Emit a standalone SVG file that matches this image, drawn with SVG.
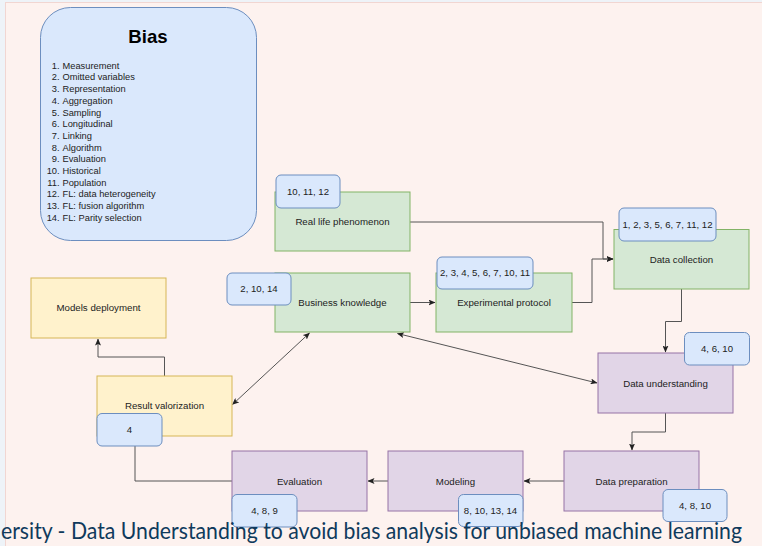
<svg xmlns="http://www.w3.org/2000/svg" width="762" height="546" viewBox="0 0 762 546">
<defs>
<marker id="arr" viewBox="0 0 7 6" refX="6.5" refY="3" markerWidth="7" markerHeight="6" markerUnits="userSpaceOnUse" orient="auto-start-reverse">
<path d="M0,0 L7,3 L0,6 L1.6,3 z" fill="#222"/>
</marker>
<style>
text{font-family:"Liberation Sans",Arial,sans-serif;fill:#222}
.lbl{font-size:9.7px;text-anchor:middle}
.bdg{font-size:9.6px;text-anchor:middle}
.green{fill:#d5e8d4;stroke:#82b366;stroke-width:1}
.purple{fill:#e1d5e7;stroke:#9673a6;stroke-width:1}
.yellow{fill:#fff2cc;stroke:#d6b656;stroke-width:1}
.blue{fill:#dae8fc;stroke:#6c8ebf;stroke-width:1}
.edge{fill:none;stroke:#555;stroke-width:1}
.list{font-size:9.3px}
.num{font-size:9.3px;text-anchor:end}
</style>
</defs>
<rect x="0" y="0" width="762" height="546" fill="#eef3f8"/>
<rect x="5.5" y="2.5" width="760" height="550" fill="#fdf2ef" stroke="#f1d6d2" stroke-width="1"/>

<g id="bias">
<rect x="40.5" y="7.5" width="216" height="233" rx="30" ry="30" class="blue"/>
<text x="148" y="42.5" style="font-size:18.6px;font-weight:bold;text-anchor:middle;fill:#000">Bias</text>
<text class="num" x="59.6" y="68.7">1.</text><text class="list" x="62.5" y="68.7">Measurement</text>
<text class="num" x="59.6" y="80.4">2.</text><text class="list" x="62.5" y="80.4">Omitted variables</text>
<text class="num" x="59.6" y="92.1">3.</text><text class="list" x="62.5" y="92.1">Representation</text>
<text class="num" x="59.6" y="103.8">4.</text><text class="list" x="62.5" y="103.8">Aggregation</text>
<text class="num" x="59.6" y="115.5">5.</text><text class="list" x="62.5" y="115.5">Sampling</text>
<text class="num" x="59.6" y="127.2">6.</text><text class="list" x="62.5" y="127.2">Longitudinal</text>
<text class="num" x="59.6" y="138.9">7.</text><text class="list" x="62.5" y="138.9">Linking</text>
<text class="num" x="59.6" y="150.6">8.</text><text class="list" x="62.5" y="150.6">Algorithm</text>
<text class="num" x="59.6" y="162.3">9.</text><text class="list" x="62.5" y="162.3">Evaluation</text>
<text class="num" x="59.6" y="174">10.</text><text class="list" x="62.5" y="174">Historical</text>
<text class="num" x="59.6" y="185.7">11.</text><text class="list" x="62.5" y="185.7">Population</text>
<text class="num" x="59.6" y="197.4">12.</text><text class="list" x="62.5" y="197.4">FL: data heterogeneity</text>
<text class="num" x="59.6" y="209.1">13.</text><text class="list" x="62.5" y="209.1">FL: fusion algorithm</text>
<text class="num" x="59.6" y="220.8">14.</text><text class="list" x="62.5" y="220.8">FL: Parity selection</text>
</g>

<g id="connectors">
<path class="edge" d="M410,222 H603 V259 H613" marker-end="url(#arr)"/>
<path class="edge" d="M572,302.5 H592 V259 H613" marker-end="url(#arr)"/>
<path class="edge" d="M410,302.5 H435" marker-end="url(#arr)"/>
<path class="edge" d="M681.5,289 V321.5 H665.5 V352" marker-end="url(#arr)"/>
<path class="edge" d="M665.5,413 V432 H632 V450" marker-end="url(#arr)"/>
<path class="edge" d="M564,481 H524" marker-end="url(#arr)"/>
<path class="edge" d="M388,481 H368" marker-end="url(#arr)"/>
<path class="edge" d="M232,481 H135 V436"/>
<path class="edge" d="M164.5,376 V357 H98 V339" marker-end="url(#arr)"/>
<path class="edge" d="M309.5,333 L232.5,404.5" marker-start="url(#arr)" marker-end="url(#arr)"/>
<path class="edge" d="M397.5,333.5 L597,383" marker-start="url(#arr)" marker-end="url(#arr)"/>
</g>

<g id="real-life-phenomenon">
<rect x="275" y="192" width="135" height="59" class="green"/>
<text class="lbl" x="342.5" y="224.5">Real life phenomenon</text>
</g>
<g id="badge-real-life">
<rect x="276" y="175" width="64" height="33" rx="5" class="blue"/>
<text class="bdg" x="308" y="194.8">10, 11, 12</text>
</g>

<g id="business-knowledge">
<rect x="275" y="273" width="135" height="59" class="green"/>
<text class="lbl" x="342.5" y="305.8">Business knowledge</text>
</g>
<g id="badge-business">
<rect x="227" y="273" width="64" height="32" rx="5" class="blue"/>
<text class="bdg" x="259" y="292.4">2, 10, 14</text>
</g>

<g id="experimental-protocol">
<rect x="436" y="273" width="136" height="59" class="green"/>
<text class="lbl" x="504" y="305.8">Experimental protocol</text>
</g>
<g id="badge-experimental">
<rect x="437" y="257" width="96" height="32" rx="5" class="blue"/>
<text class="bdg" x="485" y="276.3">2, 3, 4, 5, 6, 7, 10, 11</text>
</g>

<g id="data-collection">
<rect x="614" y="229.5" width="135" height="59.5" class="green"/>
<text class="lbl" x="681.5" y="262.5">Data collection</text>
</g>
<g id="badge-collection">
<rect x="619" y="208" width="97" height="33" rx="5" class="blue"/>
<text class="bdg" x="667.5" y="227.8">1, 2, 3, 5, 6, 7, 11, 12</text>
</g>

<g id="data-understanding">
<rect x="598" y="353" width="135" height="60" class="purple"/>
<text class="lbl" x="665.5" y="386.7">Data understanding</text>
</g>
<g id="badge-understanding">
<rect x="684.5" y="332.5" width="65" height="32.5" rx="5" class="blue"/>
<text class="bdg" x="717" y="351.8">4, 6, 10</text>
</g>

<g id="data-preparation">
<rect x="564" y="451" width="135" height="60" class="purple"/>
<text class="lbl" x="631.5" y="484.5">Data preparation</text>
</g>
<g id="badge-preparation">
<rect x="663" y="489.5" width="64" height="32" rx="5" class="blue"/>
<text class="bdg" x="695" y="508.7">4, 8, 10</text>
</g>

<g id="modeling">
<rect x="388" y="451" width="135" height="60" class="purple"/>
<text class="lbl" x="455.5" y="484.5">Modeling</text>
</g>
<g id="badge-modeling">
<rect x="458.5" y="494.5" width="64.5" height="32" rx="5" class="blue"/>
<text class="bdg" x="490.5" y="514">8, 10, 13, 14</text>
</g>

<g id="evaluation">
<rect x="232" y="451" width="135" height="60" class="purple"/>
<text class="lbl" x="299.5" y="484.5">Evaluation</text>
</g>
<g id="badge-evaluation">
<rect x="232" y="494.5" width="65" height="32.5" rx="5" class="blue"/>
<text class="bdg" x="264.5" y="514">4, 8, 9</text>
</g>

<g id="models-deployment">
<rect x="31" y="278" width="135" height="60" class="yellow"/>
<text class="lbl" x="98.5" y="311.2">Models deployment</text>
</g>

<g id="result-valorization">
<rect x="97" y="376" width="135" height="60" class="yellow"/>
<text class="lbl" x="164.5" y="408.5">Result valorization</text>
</g>
<g id="badge-result">
<rect x="97" y="413.5" width="65" height="32.5" rx="5" class="blue"/>
<text class="bdg" x="129.5" y="432.8">4</text>
</g>

<text x="1" y="539" textLength="741" lengthAdjust="spacingAndGlyphs" style="font-family:Lato,'Open Sans',sans-serif;font-size:23px;fill:#0f3a5c">ersity - Data Understanding to avoid bias analysis for unbiased machine learning</text>
</svg>
